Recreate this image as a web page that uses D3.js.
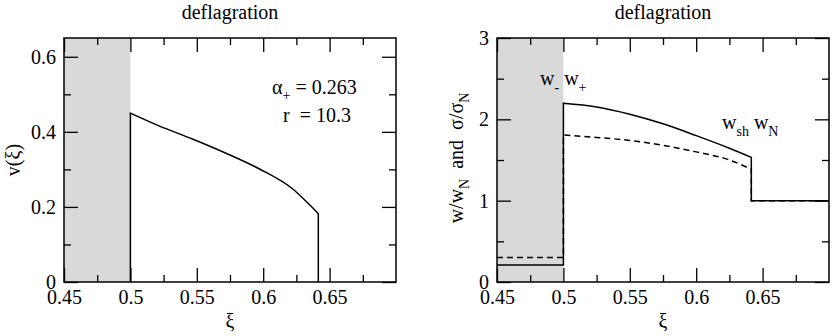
<!DOCTYPE html>
<html lang="en">
<head>
    <meta charset="UTF-8">
    <title>deflagration profiles</title>
    <script src="https://cdn.jsdelivr.net/npm/d3@7/dist/d3.min.js"></script>
    <style>
        body { margin: 0; background: #fff; }
        svg text { font-family: "Liberation Serif", "DejaVu Serif", "Noto Serif", serif; }
        path.curve { fill: none; stroke: #000; stroke-width: 1.5px; }
        path.dashed { stroke-dasharray: 6 4; }
        .tick line { stroke: #000; stroke-width: 1.3px; }
        .tick text { font-size: 20px; fill: #000; }
        text { fill: #000; white-space: pre; }
    </style>
</head>
<body>
<svg width="832" height="336"></svg>
<script>
    // ---- data ----
    let xTicks = [0.45, 0.5, 0.55, 0.6, 0.65]
    let xTickLabels = ["0.45", "0.5", "0.55", "0.6", "0.65"]
    let xMinor = [0.475, 0.525, 0.575, 0.625, 0.675]

    // left panel: fluid velocity v(xi) between the wall (0.5) and the shock
    let vTicks = [0, 0.2, 0.4, 0.6]
    let vTickLabels = ["0", "0.2", "0.4", "0.6"]
    let vMinor = [0.1, 0.3, 0.5]
    let xiV = [0.5, 0.5215, 0.5467, 0.572, 0.5972, 0.6225, 0.6351, 0.6415]
    let vVals = [0.45, 0.416, 0.381, 0.343, 0.301, 0.247, 0.205, 0.182]

    // right panel: enthalpy w/wN (solid) and entropy s/sN (dashed)
    let wTicks = [0, 1, 2, 3]
    let wTickLabels = ["0", "1", "2", "3"]
    let wMinor = [0.5, 1.5, 2.5]
    let xiW = [0.5, 0.525, 0.55, 0.575, 0.6, 0.625, 0.6415]
    let wVals = [2.197, 2.152, 2.063, 1.945, 1.80, 1.645, 1.533]
    let sVals = [1.807, 1.778, 1.74, 1.68, 1.60, 1.50, 1.386]
    let wInside = 0.21, sInside = 0.30   // values inside the bubble
    let wOutside = 1.0                   // ahead of the shock

    let shade = [0.45, 0.5]   // shaded region (inside the bubble)

    let svg = d3.select('svg')

    function panel(opts) {
        let g = svg.append('g')
        let x = d3.scaleLinear().domain([0.45, 0.7]).range([opts.left, opts.right])
        let y = d3.scaleLinear().domain(opts.yDomain).range([282, 38])

        // grey band
        g.append('rect')
            .attr('x', x(shade[0])).attr('y', y.range()[1])
            .attr('width', x(shade[1]) - x(shade[0]))
            .attr('height', y.range()[0] - y.range()[1])
            .attr('fill', '#d9d9d9')

        // ticks, all pointing inward, mirrored on the opposite sides
        let bottom = d3.axisBottom(x).tickValues(xTicks).tickSizeInner(-14).tickSizeOuter(0).tickPadding(8)
            .tickFormat(function (d, i) { return xTickLabels[i] })
        g.append('g').attr('transform', 'translate(0,' + y.range()[0] + ')').call(bottom)
        g.append('g').attr('transform', 'translate(0,' + y.range()[0] + ')')
            .call(d3.axisBottom(x).tickValues(xMinor).tickSizeInner(-7).tickSizeOuter(0).tickFormat(''))
        g.append('g').attr('transform', 'translate(0,' + y.range()[1] + ')')
            .call(d3.axisTop(x).tickValues(xTicks).tickSizeInner(-14).tickSizeOuter(0).tickFormat(''))
        g.append('g').attr('transform', 'translate(0,' + y.range()[1] + ')')
            .call(d3.axisTop(x).tickValues(xMinor).tickSizeInner(-7).tickSizeOuter(0).tickFormat(''))

        let left = d3.axisLeft(y).tickValues(opts.yTicks).tickSizeInner(-14).tickSizeOuter(0).tickPadding(8)
            .tickFormat(function (d, i) { return opts.yLabels[i] })
        g.append('g').attr('transform', 'translate(' + opts.left + ',0)').call(left)
        g.append('g').attr('transform', 'translate(' + opts.left + ',0)')
            .call(d3.axisLeft(y).tickValues(opts.yMinor).tickSizeInner(-7).tickSizeOuter(0).tickFormat(''))
        g.append('g').attr('transform', 'translate(' + opts.right + ',0)')
            .call(d3.axisRight(y).tickValues(opts.yTicks).tickSizeInner(-14).tickSizeOuter(0).tickFormat(''))
        g.append('g').attr('transform', 'translate(' + opts.right + ',0)')
            .call(d3.axisRight(y).tickValues(opts.yMinor).tickSizeInner(-7).tickSizeOuter(0).tickFormat(''))
        g.selectAll('.domain').remove()

        // frame
        g.append('rect')
            .attr('x', opts.left).attr('y', y.range()[1])
            .attr('width', opts.right - opts.left).attr('height', y.range()[0] - y.range()[1])
            .attr('fill', 'none').attr('stroke', '#000').attr('stroke-width', 1.5)

        // title and x label
        let cx = (opts.left + opts.right) / 2
        g.append('text').attr('x', cx).attr('y', 19).attr('text-anchor', 'middle')
            .style('font-size', '20px').text('deflagration')
        g.append('text').attr('x', cx).attr('y', 328).attr('text-anchor', 'middle')
            .style('font-size', '20px').text('\u03be')

        return {g: g, x: x, y: y}
    }

    // smooth curve with straight jumps before and after it
    function profile(p, xs, ys, before, after) {
        let pts = xs.map(function (d, i) { return [p.x(d), p.y(ys[i])] })
        let smooth = d3.line().curve(d3.curveMonotoneX)(pts)
        let head = before.map(function (q) { return p.x(q[0]) + ',' + p.y(q[1]) })
        let tail = after.map(function (q) { return p.x(q[0]) + ',' + p.y(q[1]) })
        let d = 'M' + head.join('L') + 'L' + smooth.slice(1)
        if (tail.length) d += 'L' + tail.join('L')
        return d
    }

    // ---- left panel ----
    let p1 = panel({left: 64, right: 396, yDomain: [0, 0.65], yTicks: vTicks, yLabels: vTickLabels, yMinor: vMinor})
    let shockV = xiV[xiV.length - 1]
    p1.g.append('path').attr('class', 'curve')
        .attr('d', profile(p1, xiV, vVals, [[xiV[0], 0]], [[shockV, 0]]))

    p1.g.append('text').attr('transform', 'translate(20,160) rotate(-90)').attr('text-anchor', 'middle')
        .style('font-size', '20px').text('v(\u03be)')

    let a1 = p1.g.append('text').attr('x', 272).attr('y', 94).style('font-size', '20px')
    a1.append('tspan').text('\u03b1')
    a1.append('tspan').attr('dy', 6).style('font-size', '14px').text('+')
    a1.append('tspan').attr('dy', -6).text(' = 0.263')
    p1.g.append('text').attr('x', 283).attr('y', 122).style('font-size', '20px').text('r  = 10.3')

    // ---- right panel ----
    let p2 = panel({left: 497, right: 829, yDomain: [0, 3], yTicks: wTicks, yLabels: wTickLabels, yMinor: wMinor})
    let shockW = xiW[xiW.length - 1]
    p2.g.append('path').attr('class', 'curve dashed')
        .attr('d', profile(p2, xiW, sVals, [[0.45, sInside], [0.5, sInside]], [[shockW, wOutside], [0.7, wOutside]]))
    p2.g.append('path').attr('class', 'curve')
        .attr('d', profile(p2, xiW, wVals, [[0.45, wInside], [0.5, wInside]], [[shockW, wOutside], [0.7, wOutside]]))

    let yl = p2.g.append('text').attr('transform', 'translate(463,158) rotate(-90)').attr('text-anchor', 'middle')
        .style('font-size', '20px')
    yl.append('tspan').text('w/w')
    yl.append('tspan').attr('dy', 6).style('font-size', '14px').text('N')
    yl.append('tspan').attr('dy', -6).text('  and  \u03c3/\u03c3')
    yl.append('tspan').attr('dy', 6).style('font-size', '14px').text('N')

    function subLabel(x, y, parts) {
        let t = p2.g.append('text').attr('x', x).attr('y', y).style('font-size', '20px')
        parts.forEach(function (p, i) {
            t.append('tspan').text(p[0])
            t.append('tspan').attr('dy', 7).style('font-size', '14px').text(p[1])
            t.append('tspan').attr('dy', -7).text(i < parts.length - 1 ? ' ' : '')
        })
    }
    subLabel(540, 85, [['w', '-'], ['w', '+']])
    subLabel(722, 129, [['w', 'sh'], ['w', 'N']])
</script>
</body>
</html>
